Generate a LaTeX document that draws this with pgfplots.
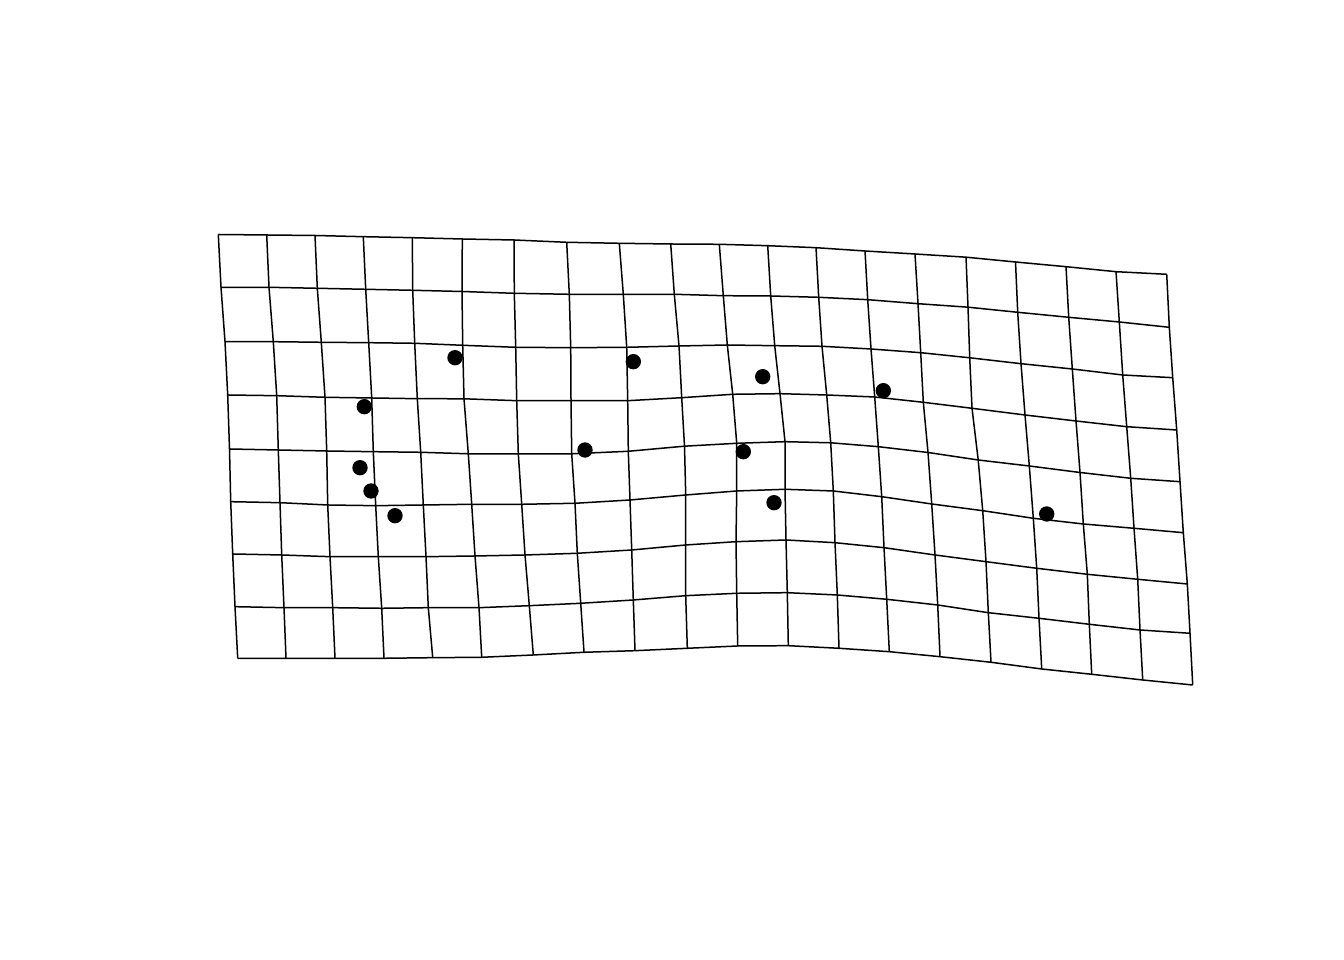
\documentclass[border=0pt]{standalone}
\usepackage{pgfplots}
\usepackage{pgfplotstable}
\pgfplotsset{compat=1.18}

% grid intersections (pixel coords, y downwards): grid row, grid column
\pgfplotstableread{
gr gc x y
0 0 218.3 234.5
0 1 266.7 235
0 2 315 235.5
0 3 363.3 236.7
0 4 412.3 237.7
0 5 462.3 239
0 6 514 240
0 7 566.7 242.3
0 8 619.3 243.3
0 9 670.7 244
0 10 719.3 244.3
0 11 767.7 245.7
0 12 816 247.7
0 13 865 251
0 14 915 254
0 15 966 257.2
0 16 1015.5 262
0 17 1066 266.7
0 18 1116 271.7
0 19 1166.7 274.3
1 0 221 287.3
1 1 269 287.3
1 2 317.3 288.3
1 3 365.7 289.3
1 4 412.7 290.3
1 5 462 291.5
1 6 514.3 293.3
1 7 569.3 294.3
1 8 623.3 294.3
1 9 674.3 294.3
1 10 723.3 295.7
1 11 770.7 296
1 12 818.7 297.3
1 13 867.7 299.7
1 14 918 303.7
1 15 968 307.2
1 16 1017.7 312.3
1 17 1068.7 317.3
1 18 1119.3 322
1 19 1169.3 327.3
2 0 225 341.7
2 1 273.3 341.7
2 2 321.3 342.3
2 3 368.7 342.7
2 4 414.7 343.3
2 5 462.7 345.3
2 6 515.7 347.3
2 7 570.7 347.7
2 8 626.7 347.3
2 9 679 346
2 10 727.3 345
2 11 774.7 345.7
2 12 822 346.3
2 13 871 349
2 14 920.7 352.7
2 15 969.7 357.8
2 16 1021 363.7
2 17 1072.3 369
2 18 1122.7 375
2 19 1172.7 377.7
3 0 227.7 395
3 1 276.7 395.7
3 2 325 397.3
3 3 371.7 398
3 4 417.3 398.7
3 5 464 398.8
3 6 516.7 400.7
3 7 571 400.7
3 8 627.7 400.7
3 9 681.7 397.7
3 10 732.7 394.3
3 11 780 393.7
3 12 826.7 395
3 13 874.7 397
3 14 923.3 402.3
3 15 972 408.3
3 16 1025 415
3 17 1076 421
3 18 1126.7 426.7
3 19 1176.7 430
4 0 229.5 449
4 1 278.3 450
4 2 326.7 451
4 3 373.3 451.7
4 4 420.7 452.3
4 5 468.3 453.8
4 6 518.3 453.8
4 7 571.7 453.8
4 8 628.3 451.3
4 9 684.5 446.2
4 10 736.7 443.3
4 11 785 441.7
4 12 830.7 442.8
4 13 878.3 446.7
4 14 928 452.5
4 15 978.2 460
4 16 1029.3 466
4 17 1080 472.5
4 18 1130.7 478.3
4 19 1180 481.7
5 0 230.7 501.7
5 1 280 502.7
5 2 327.7 505
5 3 375.7 505.7
5 4 423.3 505
5 5 471.7 504.3
5 6 521.7 504.3
5 7 575 503.3
5 8 630 500
5 9 685.7 495
5 10 736.7 491
5 11 785 489.3
5 12 833.3 491
5 13 881.7 496.7
5 14 931.7 504
5 15 982.7 510.7
5 16 1033.3 518.3
5 17 1083.3 524
5 18 1134 528.3
5 19 1183.3 532.7
6 0 232.7 554
6 1 281.7 555
6 2 330 556.7
6 3 378.3 556.7
6 4 426 556.7
6 5 475 556
6 6 525 555
6 7 577.3 553.3
6 8 631.7 550
6 9 685.7 545
6 10 736 541.7
6 11 786 540
6 12 835 542.7
6 13 884 547.7
6 14 935 555
6 15 986 561.7
6 16 1036.7 568.3
6 17 1087.3 574.3
6 18 1137.7 579.3
6 19 1187.3 584
7 0 235 606.7
7 1 284 607.7
7 2 332.7 607.7
7 3 381.7 608.3
7 4 428.3 607.7
7 5 479 607.7
7 6 529.3 605.7
7 7 580.7 603.3
7 8 633.3 600
7 9 685.7 595.7
7 10 736.7 593.3
7 11 787.3 592.7
7 12 837.3 595
7 13 886.7 599.3
7 14 937.7 605
7 15 988.3 612.7
7 16 1039 618.3
7 17 1089.3 624.3
7 18 1140 630
7 19 1190 633.3
8 0 237.7 658.3
8 1 286 658.3
8 2 335 658.3
8 3 384 658.3
8 4 432.7 657.7
8 5 481.7 657.3
8 6 533.3 655
8 7 584 652.3
8 8 635 650.7
8 9 687.3 648.3
8 10 737.7 646
8 11 788.3 645.7
8 12 839 648.3
8 13 889.3 651.7
8 14 940 656.7
8 15 991 662.3
8 16 1041.7 669
8 17 1091.7 674.3
8 18 1142.7 680
8 19 1192.7 685
}\gridtab

% same points in column order, for the vertical lines
\pgfplotstablecreatecol[create col/expr={\thisrow{gc}*100+\thisrow{gr}}]{key}\gridtab
\pgfplotstablesort[sort key=key, sort cmp=float <]{\gridcols}{\gridtab}

% landmarks
\pgfplotstableread{
x y
455 357.7
633.3 361.7
762.7 376.7
883.3 390.7
364.3 406.7
585 450
743.3 451.7
360 467.7
371 491
395 515.7
774 502.7
1046.7 514
}\landmarks

\begin{document}
\begin{tikzpicture}
\begin{axis}[
    scale only axis,
    width=403.2pt, height=288pt,
    xmin=0, xmax=1344, ymin=0, ymax=960,
    y dir=reverse,
    ticks=none,
    axis line style={draw=none},
    clip=false,
]
\pgfplotsinvokeforeach{0,...,8}{
  \addplot[black, line width=0.45pt, no marks]
    table[x=x, y=y, restrict expr to domain={\thisrow{gr}}{#1:#1}] {\gridtab};
}
\pgfplotsinvokeforeach{0,...,19}{
  \addplot[black, line width=0.45pt, no marks]
    table[x=x, y=y, restrict expr to domain={\thisrow{gc}}{#1:#1}] {\gridcols};
}
\addplot[only marks, mark=*, mark size=2.1pt, black] table[x=x, y=y] {\landmarks};
\end{axis}
\end{tikzpicture}
\end{document}
